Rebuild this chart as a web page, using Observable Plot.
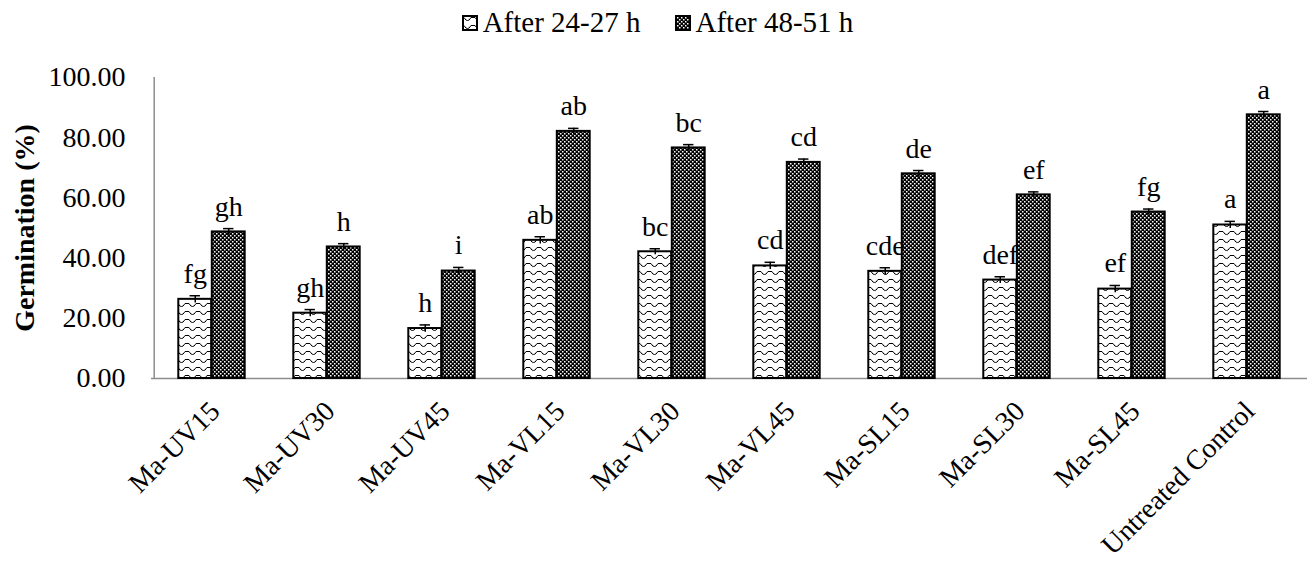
<!DOCTYPE html>
<html>
<head>
<meta charset="utf-8">
<script src="https://cdn.jsdelivr.net/npm/d3@7"></script>
<script src="https://cdn.jsdelivr.net/npm/@observablehq/plot@0.6"></script>
<style>
  body { margin: 0; background: #fff; font-family: "Liberation Serif", "Times New Roman", serif; }
  #legend { height: 45px; display: flex; justify-content: center; align-items: center; gap: 34px; font-size: 29px; color: #000; padding-left: 8px; box-sizing: border-box; }
  #legend .item { display: flex; align-items: center; gap: 5px; }
  #legend svg { display: block; }
  [aria-label="y-axis label"] text { font-weight: bold; }
</style>
</head>
<body>
<div id="legend"></div>
<div id="chart"></div>
<script>
const categories = ["Ma-UV15", "Ma-UV30", "Ma-UV45", "Ma-VL15", "Ma-VL30", "Ma-VL45", "Ma-SL15", "Ma-SL30", "Ma-SL45", "Untreated Control"];
const seriesNames = ["After 24-27 h", "After 48-51 h"];
const after24 = [26.3, 21.7, 16.6, 45.9, 42.1, 37.4, 35.6, 32.7, 29.7, 51.0];
const after48 = [48.7, 43.7, 35.7, 82.1, 76.6, 71.8, 68.0, 61.0, 55.3, 87.6];
const err24 = [1.2, 1.2, 1.2, 1.2, 1.0, 1.2, 1.2, 1.1, 1.2, 1.2];
const err48 = [1.1, 1.1, 1.2, 1.0, 1.1, 1.1, 1.1, 1.0, 1.0, 1.1];
const letters24 = ["fg", "gh", "h", "ab", "bc", "cd", "cde", "def", "ef", "a"];
const letters48 = ["gh", "h", "i", "ab", "bc", "cd", "de", "ef", "fg", "a"];
const yTicks = [0, 20, 40, 60, 80, 100];
const yLabel = "Germination (%)";

const rows24 = categories.map((c, i) => ({cat: c, v: after24[i], e: err24[i], lab: letters24[i]}));
const rows48 = categories.map((c, i) => ({cat: c, v: after48[i], e: err48[i], lab: letters48[i]}));

const W = 1307, H = 516, ML = 151, MR = 0, MT = 32, MB = 183;
const bw = (W - ML - MR) / categories.length;
const barW = 33.5;
const capW = 11;
const FS = 28;
const font = '"Liberation Serif", "Times New Roman", serif';

const plot = Plot.plot({
  width: W, height: H,
  marginLeft: ML, marginRight: MR, marginTop: MT, marginBottom: MB,
  style: {fontFamily: font, fontSize: FS + "px", background: "#fff", color: "#000"},
  x: {domain: categories, padding: 0, label: null},
  y: {domain: [0, 100], label: yLabel},
  marks: [
    Plot.ruleY([0], {stroke: "#8c8c8c", strokeWidth: 1.5}),
    Plot.ruleX([categories[0]], {x: d => d, y1: 0, y2: 100, dx: -bw / 2, stroke: "#8c8c8c", strokeWidth: 1.5}),
    Plot.barY(rows24, {x: "cat", y: "v", fill: "url(#patWave)", stroke: "#000", strokeWidth: 2,
      insetLeft: bw / 2 - barW, insetRight: bw / 2}),
    Plot.barY(rows48, {x: "cat", y: "v", fill: "url(#patCheck)", stroke: "#000", strokeWidth: 2,
      insetLeft: bw / 2, insetRight: bw / 2 - barW}),
    Plot.ruleX(rows24, {x: "cat", y1: d => d.v - d.e, y2: d => d.v + d.e, dx: -barW / 2, stroke: "#000", strokeWidth: 1.5}),
    Plot.ruleX(rows48, {x: "cat", y1: d => d.v - d.e, y2: d => d.v + d.e, dx: barW / 2, stroke: "#000", strokeWidth: 1.5}),
    Plot.tickY(rows24, {x: "cat", y: d => d.v + d.e, stroke: "#000", strokeWidth: 1.5,
      insetLeft: bw / 2 - barW / 2 - capW / 2, insetRight: bw / 2 + barW / 2 - capW / 2}),
    Plot.tickY(rows48, {x: "cat", y: d => d.v + d.e, stroke: "#000", strokeWidth: 1.5,
      insetLeft: bw / 2 + barW / 2 - capW / 2, insetRight: bw / 2 - barW / 2 - capW / 2}),
    Plot.text(rows24, {x: "cat", y: d => d.v + d.e, text: "lab", dx: -barW / 2, dy: -13, lineAnchor: "bottom", fontSize: FS, fill: "#000"}),
    Plot.text(rows48, {x: "cat", y: d => d.v + d.e, text: "lab", dx: barW / 2, dy: -13, lineAnchor: "bottom", fontSize: FS, fill: "#000"}),
    Plot.axisY({ticks: yTicks, tickSize: 0, tickPadding: 26, tickFormat: d => d.toFixed(2), fontSize: FS,
      label: yLabel, labelAnchor: "center", labelOffset: 137, labelArrow: "none"}),
    Plot.axisX({tickSize: 0, tickRotate: -45, tickPadding: 28, dx: 3, fontSize: FS, label: null})
  ]
});

const defsHTML = `
  <pattern id="patWave" patternUnits="userSpaceOnUse" width="11" height="8">
    <rect width="11" height="8" fill="#fff"/>
    <path d="M0,2.5 L2,2.5 Q4,6 5.5,5.5 Q7,6 9,2.5 L11,2.5" fill="none" stroke="#000" stroke-width="1"/>
  </pattern>
  <pattern id="patCheck" patternUnits="userSpaceOnUse" width="4" height="4">
    <rect width="4" height="4" fill="#000"/>
    <rect x="0" y="0" width="1.5" height="1.5" fill="#fff"/>
    <rect x="2" y="2" width="1.5" height="1.5" fill="#fff"/>
  </pattern>`;
const defs = document.createElementNS("http://www.w3.org/2000/svg", "defs");
defs.innerHTML = defsHTML;
plot.insertBefore(defs, plot.firstChild);
document.getElementById("chart").appendChild(plot);

const legend = d3.select("#legend");
seriesNames.forEach((name, i) => {
  const item = legend.append("div").attr("class", "item");
  const s = item.append("svg").attr("width", 16).attr("height", 16);
  s.append("rect").attr("x", 1).attr("y", 1).attr("width", 14).attr("height", 14)
    .attr("fill", i === 0 ? "url(#patWave)" : "url(#patCheck)").attr("stroke", "#000").attr("stroke-width", 2);
  item.append("span").text(name);
});
</script>
</body>
</html>
